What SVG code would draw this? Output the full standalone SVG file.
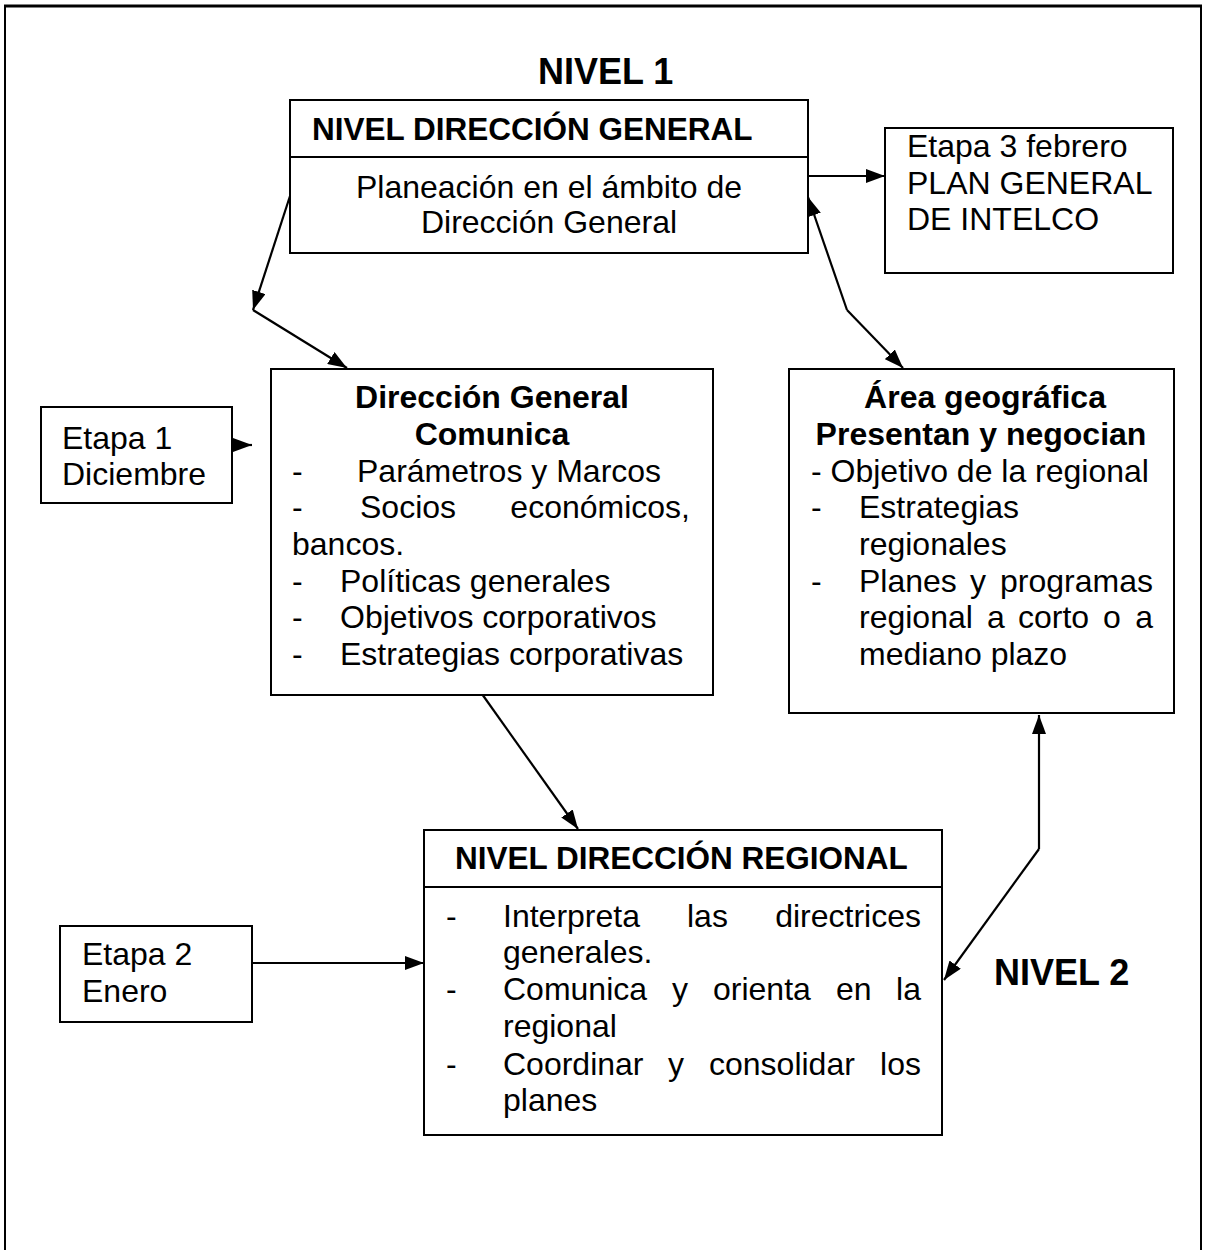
<svg xmlns="http://www.w3.org/2000/svg" width="1205" height="1250" viewBox="0 0 1205 1250">
<style>
  .box { fill: #ffffff; stroke: #000000; stroke-width: 2; }
  .sep { stroke: #000000; stroke-width: 2; }
  .t { font-family: "Liberation Sans", Arial, sans-serif; font-size: 32px; fill: #000000; }
  .b { font-family: "Liberation Sans", Arial, sans-serif; font-size: 32px; font-weight: bold; fill: #000000; }
  .hb { font-family: "Liberation Sans", Arial, sans-serif; font-size: 31.5px; font-weight: bold; fill: #000000; }
  .lvl { font-family: "Liberation Sans", Arial, sans-serif; font-size: 36px; font-weight: bold; fill: #000000; }
  .c { stroke: #000000; stroke-width: 2.2; fill: none; marker-end: url(#ah); }
</style>
<defs>
  <marker id="ah" markerUnits="userSpaceOnUse" markerWidth="20" markerHeight="14" refX="19" refY="7" orient="auto">
    <path d="M0,0 L19,7 L0,14 z" fill="#000000"/>
  </marker>
</defs>
<rect x="0" y="0" width="1205" height="1250" fill="#ffffff"/>
<g id="frame">
  <line x1="4" y1="6" x2="1202" y2="6" stroke="#000" stroke-width="3"/>
  <line x1="5" y1="6" x2="5" y2="1250" stroke="#000" stroke-width="2"/>
  <line x1="1201" y1="6" x2="1201" y2="1250" stroke="#000" stroke-width="2"/>
</g>
<g id="labels">
  <text class="lvl" x="538" y="84">NIVEL 1</text>
  <text class="lvl" x="994" y="985">NIVEL 2</text>
</g>
<g id="connectors">
  <line class="c" x1="290" y1="196" x2="253" y2="310"/>
  <line class="c" x1="253" y1="310" x2="347" y2="368"/>
  <line class="c" x1="808" y1="176" x2="885" y2="176"/>
  <line class="c" x1="847" y1="310" x2="808" y2="197"/>
  <line class="c" x1="847" y1="310" x2="903" y2="368"/>
  <line class="c" x1="232" y1="445" x2="252" y2="445"/>
  <line class="c" x1="482" y1="694" x2="578" y2="829"/>
  <line class="c" x1="252" y1="963" x2="424" y2="963"/>
  <polyline class="c" points="1039,849 1039,715"/>
  <line class="c" x1="1039" y1="849" x2="944" y2="980"/>
</g>
<g id="nivel-direccion-general">
  <rect class="box" x="290" y="100" width="518" height="153"/>
  <line class="sep" x1="290" y1="157" x2="808" y2="157"/>
  <text class="hb" x="312" y="140">NIVEL DIRECCIÓN GENERAL</text>
  <text class="t" x="549" y="198" text-anchor="middle">Planeación en el ámbito de</text>
  <text class="t" x="549" y="233" text-anchor="middle">Dirección General</text>
</g>
<g id="etapa3">
  <rect class="box" x="885" y="128" width="288" height="145"/>
  <text class="t" x="907" y="157">Etapa 3 febrero</text>
  <text class="t" x="907" y="194">PLAN GENERAL</text>
  <text class="t" x="907" y="230">DE INTELCO</text>
</g>
<g id="etapa1">
  <rect class="box" x="41" y="407" width="191" height="96"/>
  <text class="t" x="62" y="449">Etapa 1</text>
  <text class="t" x="62" y="485">Diciembre</text>
</g>
<g id="direccion-general-comunica">
  <rect class="box" x="271" y="369" width="442" height="326"/>
  <text class="b" x="492" y="408" text-anchor="middle">Dirección General</text>
  <text class="b" x="492" y="445" text-anchor="middle">Comunica</text>
  <text class="t" x="292" y="482">-</text>
  <text class="t" x="357" y="482">Parámetros y Marcos</text>
  <text class="t" x="292" y="518">-</text>
  <text class="t" x="360" y="518">Socios</text>
  <text class="t" x="690" y="518" text-anchor="end">económicos,</text>
  <text class="t" x="292" y="555">bancos.</text>
  <text class="t" x="292" y="592">-</text>
  <text class="t" x="340" y="592">Políticas generales</text>
  <text class="t" x="292" y="628">-</text>
  <text class="t" x="340" y="628">Objetivos corporativos</text>
  <text class="t" x="292" y="665">-</text>
  <text class="t" x="340" y="665">Estrategias corporativas</text>
</g>
<g id="area-geografica">
  <rect class="box" x="789" y="369" width="385" height="344"/>
  <text class="b" x="985" y="408" text-anchor="middle">Área geográfica</text>
  <text class="b" x="981" y="445" text-anchor="middle">Presentan y negocian</text>
  <text class="t" x="811" y="482">- Objetivo de la regional</text>
  <text class="t" x="811" y="518">-</text>
  <text class="t" x="859" y="518">Estrategias</text>
  <text class="t" x="859" y="555">regionales</text>
  <text class="t" x="811" y="592">-</text>
  <text class="t" x="859" y="592">Planes</text>
  <text class="t" x="970" y="592">y</text>
  <text class="t" x="1153" y="592" text-anchor="end">programas</text>
  <text class="t" x="859" y="628">regional</text>
  <text class="t" x="987" y="628">a</text>
  <text class="t" x="1018" y="628">corto</text>
  <text class="t" x="1103" y="628">o</text>
  <text class="t" x="1153" y="628" text-anchor="end">a</text>
  <text class="t" x="859" y="665">mediano plazo</text>
</g>
<g id="etapa2">
  <rect class="box" x="60" y="926" width="192" height="96"/>
  <text class="t" x="82" y="965">Etapa 2</text>
  <text class="t" x="82" y="1002">Enero</text>
</g>
<g id="nivel-direccion-regional">
  <rect class="box" x="424" y="830" width="518" height="305"/>
  <line class="sep" x1="424" y1="887" x2="942" y2="887"/>
  <text class="hb" x="455" y="869">NIVEL DIRECCIÓN REGIONAL</text>
  <text class="t" x="446" y="927">-</text>
  <text class="t" x="503" y="927">Interpreta</text>
  <text class="t" x="687" y="927">las</text>
  <text class="t" x="921" y="927" text-anchor="end">directrices</text>
  <text class="t" x="503" y="963">generales.</text>
  <text class="t" x="446" y="1000">-</text>
  <text class="t" x="503" y="1000">Comunica</text>
  <text class="t" x="672" y="1000">y</text>
  <text class="t" x="713" y="1000">orienta</text>
  <text class="t" x="836" y="1000">en</text>
  <text class="t" x="921" y="1000" text-anchor="end">la</text>
  <text class="t" x="503" y="1037">regional</text>
  <text class="t" x="446" y="1075">-</text>
  <text class="t" x="503" y="1075">Coordinar</text>
  <text class="t" x="668" y="1075">y</text>
  <text class="t" x="709" y="1075">consolidar</text>
  <text class="t" x="921" y="1075" text-anchor="end">los</text>
  <text class="t" x="503" y="1111">planes</text>
</g>
</svg>
